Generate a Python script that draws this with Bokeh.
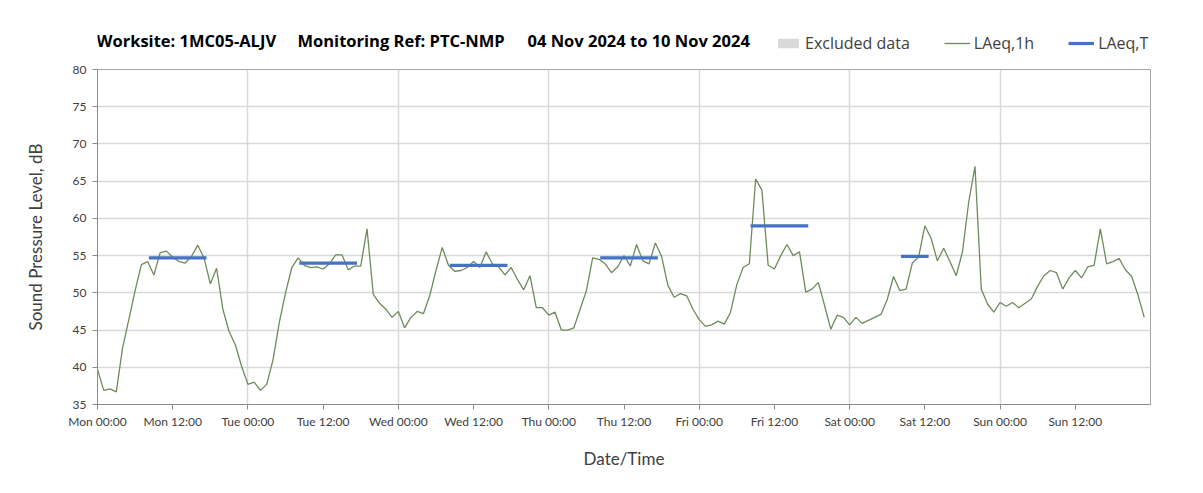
import numpy as np
from bokeh.plotting import figure
from bokeh.layouts import column
from bokeh.models import FixedTicker, Range1d, Label, Legend, LegendItem, ColumnDataSource
from bokeh.embed import file_html
from bokeh.resources import INLINE

# Hourly LAeq,1h values (dB) per day, 00:00 .. 23:00
mon = [39.7, 36.9, 37.1, 36.7, 42.6, 46.4, 50.3, 53.8, 54.2, 52.4, 55.4, 55.6,
       54.8, 54.2, 54.0, 54.9, 56.4, 54.7, 51.2, 53.3, 47.8, 44.8, 43.0, 40.1]
tue = [37.7, 38.0, 36.9, 37.7, 41.0, 46.0, 50.0, 53.4, 54.7, 53.7, 53.4, 53.5,
       53.2, 53.9, 55.1, 55.1, 53.1, 53.6, 53.6, 58.6, 49.8, 48.6, 47.8, 46.7]
wed = [47.5, 45.3, 46.7, 47.5, 47.2, 49.6, 53.0, 56.1, 53.7, 52.9, 53.0, 53.4,
       54.2, 53.4, 55.5, 53.9, 53.5, 52.4, 53.4, 51.8, 50.4, 52.3, 48.0, 48.0]
thu = [47.0, 47.4, 45.0, 45.0, 45.3, 47.8, 50.3, 54.7, 54.5, 53.9, 52.7, 53.5,
       55.0, 53.6, 56.5, 54.3, 53.9, 56.7, 54.9, 51.0, 49.4, 49.9, 49.6, 47.8]
fri = [46.4, 45.5, 45.7, 46.2, 45.8, 47.4, 51.1, 53.4, 53.9, 65.3, 63.8, 53.7,
       53.2, 55.0, 56.5, 55.0, 55.5, 50.1, 50.5, 51.4, 48.3, 45.1, 47.0, 46.7]
sat = [45.7, 46.7, 45.9, 46.3, 46.7, 47.1, 49.1, 52.2, 50.3, 50.5, 54.0, 54.8,
       59.0, 57.3, 54.3, 56.0, 54.2, 52.3, 55.5, 62.2, 67.0, 50.5, 48.5, 47.4]
sun = [48.7, 48.2, 48.7, 48.0, 48.6, 49.2, 50.9, 52.3, 53.0, 52.7, 50.5, 52.0,
       53.0, 52.0, 53.5, 53.7, 58.6, 53.9, 54.2, 54.6, 53.1, 52.2, 49.7, 46.7]

# LAeq,T periods (hours from Mon 00:00) and levels
lt_start = [8.2, 32.2, 56.2, 80.2, 104.2, 128.2]
lt_end = [17.4, 41.4, 65.4, 89.4, 113.4, 132.6]
lt_value = [54.7, 54.0, 53.7, 54.7, 59.0, 54.9]

x_ticks = list(range(0, 157, 12))
x_tick_labels = ["Mon 00:00", "Mon 12:00", "Tue 00:00", "Tue 12:00", "Wed 00:00",
                 "Wed 12:00", "Thu 00:00", "Thu 12:00", "Fri 00:00", "Fri 12:00",
                 "Sat 00:00", "Sat 12:00", "Sun 00:00", "Sun 12:00"]
y_ticks = [35, 40, 45, 50, 55, 60, 65, 70, 75, 80]
day_lines = [24, 48, 72, 96, 120, 144]

title_parts = ["Worksite: 1MC05-ALJV", "Monitoring Ref: PTC-NMP", "04 Nov 2024 to 10 Nov 2024"]
legend_labels = ["Excluded data", "LAeq,1h", "LAeq,T"]

laeq_1h = mon + tue + wed + thu + fri + sat + sun
hours = list(range(len(laeq_1h)))

FONT = "Lato"
HFONT = "Open Sans"
W = 1195
HEAD_H = 59
FRAME_L = 97  # header frame is aligned with the chart frame by the column layout

# ---------- header (title + legend) ----------
head = figure(width=W, height=HEAD_H, output_backend="svg", toolbar_location=None,
              x_range=Range1d(0, 10), y_range=Range1d(0, 10),
              min_border=0, min_border_left=0, min_border_right=0,
              min_border_top=0, min_border_bottom=0)
head.axis.visible = False
head.grid.visible = False
head.outline_line_color = None

for txt, xo in zip(title_parts, [96, 297, 527]):
    head.add_layout(Label(x=xo - FRAME_L, y=HEAD_H - 40, x_units="screen", y_units="screen",
                          text=txt, text_font=HFONT, text_font_size="16.5px",
                          text_font_style="bold", text_color="#000000",
                          text_baseline="middle"))

# legend renderers: placed outside the visible range
h_excl = head.quad(left=[-20], right=[-19], bottom=[-20], top=[-19],
                   fill_color="#D9D9D9", line_color=None)
h_line = head.line(x=[-20, -19], y=[-20, -20], line_color="#6E8B5C", line_width=1.3)
h_lt = head.line(x=[-20, -19], y=[-20, -20], line_color="#4472C4", line_width=3.2)
legend = Legend(items=[LegendItem(label=legend_labels[0], renderers=[h_excl]),
                       LegendItem(label=legend_labels[1], renderers=[h_line]),
                       LegendItem(label=legend_labels[2], renderers=[h_lt])],
                location=(775 - FRAME_L, HEAD_H - 44 - 10), orientation="horizontal",
                glyph_width=26, glyph_height=12, label_standoff=4, spacing=34,
                label_height=20, padding=0, margin=0, border_line_color=None,
                background_fill_alpha=0,
                label_text_font=HFONT, label_text_font_size="16px", label_text_color="#404040")
head.add_layout(legend, "center")

# ---------- main chart ----------
p = figure(width=W, height=485 - HEAD_H, output_backend="svg", toolbar_location=None,
           x_range=Range1d(0, 168), y_range=Range1d(35, 80),
           min_border_left=FRAME_L, min_border_right=45, min_border_top=69 - HEAD_H,
           min_border_bottom=81)
p.outline_line_color = "#A6A6A6"

for ax in (p.xaxis[0], p.yaxis[0]):
    ax.axis_line_color = "#8C8C8C"
    ax.major_tick_line_color = "#8C8C8C"
    ax.minor_tick_line_color = None
    ax.major_tick_out = 5
    ax.major_tick_in = 0
    ax.major_label_text_font = FONT
    ax.major_label_text_font_size = "12px"
    ax.major_label_text_color = "#404040"
    ax.axis_label_text_font = FONT
    ax.axis_label_text_font_size = "17px"
    ax.axis_label_text_font_style = "normal"
    ax.axis_label_text_color = "#404040"

p.xaxis.ticker = FixedTicker(ticks=x_ticks)
p.xaxis.major_label_overrides = {t: l for t, l in zip(x_ticks, x_tick_labels)}
p.xaxis.axis_label = "Date/Time"
p.xaxis.axis_label_standoff = 16
p.xaxis.major_label_standoff = 4

p.yaxis.ticker = FixedTicker(ticks=y_ticks)
p.yaxis.axis_label = "Sound Pressure Level, dB"
p.yaxis.axis_label_standoff = 24
p.yaxis.major_label_standoff = 6

p.xgrid.ticker = FixedTicker(ticks=day_lines)
p.ygrid.ticker = FixedTicker(ticks=y_ticks)
for g in (p.xgrid[0], p.ygrid[0]):
    g.grid_line_color = "#D9D9D9"
    g.grid_line_width = 1.5

src = ColumnDataSource(dict(x=hours, y=laeq_1h))
p.line("x", "y", source=src, line_color="#6E8B5C", line_width=1.3)
lt_src = ColumnDataSource(dict(x0=lt_start, x1=lt_end, y=lt_value))
p.segment(x0="x0", y0="y", x1="x1", y1="y", source=lt_src,
          line_color="#4472C4", line_width=3.2)

layout = column(head, p, spacing=0)
open("out.html", "w").write(file_html(layout, INLINE))
